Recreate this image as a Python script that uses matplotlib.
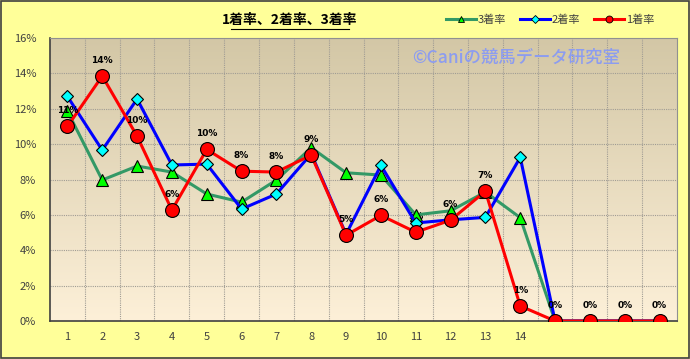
import numpy as np
import matplotlib.pyplot as plt
from matplotlib.lines import Line2D

plt.rcParams['font.family'] = ['Noto Sans CJK JP', 'DejaVu Sans']

# data (percent)
cats = [str(i) for i in range(1, 15)] + ['', '', '', '']
win = [11.0, 13.85, 10.45, 6.27, 9.7, 8.47, 8.42, 9.38, 4.85, 5.97, 5.02, 5.7, 7.34, 0.85, 0, 0, 0, 0]
second = [12.7, 9.66, 12.55, 8.82, 8.87, 6.33, 7.18, 9.45, 4.9, 8.8, 5.54, 5.72, 5.86, 9.25, 0, 0, 0, 0]
third = [11.86, 7.97, 8.76, 8.42, 7.18, 6.72, 7.97, 9.8, 8.38, 8.25, 6.0, 6.23, 7.29, 5.84, 0, 0, 0, 0]
win_labels = ['11%', '14%', '10%', '6%', '10%', '8%', '8%', '9%', '5%', '6%', '5%', '6%', '7%', '1%',
              '0%', '0%', '0%', '0%']

fig = plt.figure(figsize=(6.9, 3.59), dpi=100)
fig.patch.set_facecolor('#FFFF99')
# figure border
fig.patches.append(plt.Rectangle((0.001, 0.002), 0.997, 0.995, transform=fig.transFigure,
                                 fill=False, edgecolor='#404040', linewidth=1.2))

ax = fig.add_axes([50 / 690, 1 - 321 / 359, 627 / 690, 283 / 359])
n = len(cats)
x = np.arange(n)

# gradient background
grad = np.linspace(0, 1, 256).reshape(-1, 1)
top = np.array([211, 199, 166]) / 255
bot = np.array([253, 240, 216]) / 255
img = top + (bot - top) * grad[:, :, None] * np.ones((1, 1, 3))
ax.imshow(img, extent=[0, 1, 0, 1], transform=ax.transAxes, aspect='auto', zorder=0)

ax.set_xlim(-0.5, n - 0.5)
ax.set_ylim(0, 16)

# grid
for b in np.arange(0.5, n - 0.5, 1):
    ax.axvline(b, color='#a09c94', linestyle=(0, (1, 1)), linewidth=0.8, zorder=1)
for yv in range(2, 16, 2):
    ax.axhline(yv, color='#a09c94', linestyle=(0, (1, 1)), linewidth=0.8, zorder=1)

ax.plot(x, third, color='#339966', linewidth=2.2, marker='^', markersize=8,
        markerfacecolor='#00FF00', markeredgecolor='black', markeredgewidth=0.8, zorder=3)
ax.plot(x, second, color='#0000FF', linewidth=2.2, marker='D', markersize=6,
        markerfacecolor='#00FFFF', markeredgecolor='black', markeredgewidth=0.8, zorder=4)
ax.plot(x, win, color='#FF0000', linewidth=2.2, marker='o', markersize=10,
        markerfacecolor='#FF0000', markeredgecolor='black', markeredgewidth=0.8, zorder=5)

for i, (v, lab) in enumerate(zip(win, win_labels)):
    ax.text(i, v + 0.9, lab, ha='center', va='center', fontsize=6.5, fontweight='bold',
            family='DejaVu Sans', color='black', zorder=2 if i == 10 else 6)

ax.set_xticks(x)
ax.set_xticklabels(cats)
ax.set_yticks(range(0, 17, 2))
ax.set_yticklabels([f'{v}%' for v in range(0, 17, 2)])
ax.tick_params(length=0, labelsize=8, colors='#404040', pad=8)
ax.tick_params(axis='y', pad=10)
for s in ['left', 'bottom']:
    ax.spines[s].set_color('#404040')
    ax.spines[s].set_linewidth(1.2)
for s in ['top', 'right']:
    ax.spines[s].set_color('#909090')

# watermark
ax.text(0.743, 0.93, '©Caniの競馬データ研究室', transform=ax.transAxes, ha='center', va='center',
        fontsize=12.5, fontweight='medium', color='#8C9CF0', zorder=7)

fig.text(290 / 690, 1 - 20 / 359, '1着率、2着率、3着率', ha='center', va='center',
         fontsize=10, fontweight='bold', color='black')
fig.add_artist(Line2D([231 / 690, 349 / 690], [1 - 29 / 359, 1 - 29 / 359], color='black',
                      linewidth=0.8, transform=fig.transFigure))

handles = [
    Line2D([], [], color='#339966', linewidth=2.2, marker='^', markersize=5,
           markerfacecolor='#00FF00', markeredgecolor='black', markeredgewidth=0.6),
    Line2D([], [], color='#0000FF', linewidth=2.2, marker='D', markersize=4,
           markerfacecolor='#00FFFF', markeredgecolor='black', markeredgewidth=0.6),
    Line2D([], [], color='#FF0000', linewidth=2.2, marker='o', markersize=5,
           markerfacecolor='#FF0000', markeredgecolor='black', markeredgewidth=0.6),
]
fig.legend(handles, ['3着率', '2着率', '1着率'], loc='center', bbox_to_anchor=(550 / 690, 1 - 20 / 359),
           ncol=3, frameon=False, fontsize=8, handlelength=2.7, handletextpad=0.2, columnspacing=1.2,
           labelcolor='#404040')

fig.savefig('out.png', dpi=100, facecolor=fig.get_facecolor())
